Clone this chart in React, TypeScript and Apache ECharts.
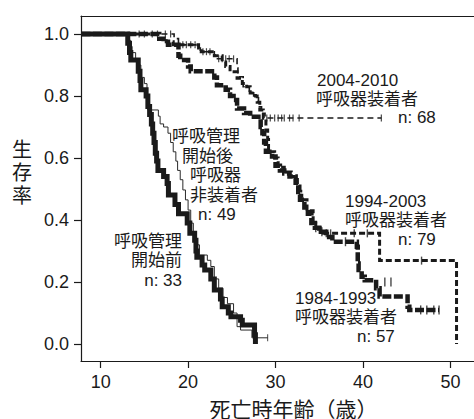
import React, { useEffect, useRef } from "react";
import * as echarts from "echarts";

// ---- axis ----
const xTicks = [10, 20, 30, 40, 50];
const yTicks = [0, 0.2, 0.4, 0.6, 0.8, 1.0];
const xMin = 7.753;
const xMax = 51.91;
const yMin = -0.0548;
const yMax = 1.0581;

// ---- 呼吸管理開始前 n:33 ----
const ageBefore = [7.8, 13.1, 13.3, 13.45, 14.3, 14.5, 14.6, 15.2, 15.4, 15.6, 15.8, 15.95, 16.1, 16.25, 16.4, 16.55, 17.2, 17.6, 17.75, 18.5, 18.9, 19.9, 20.2, 20.75, 20.9, 21.0, 21.6, 21.9, 22.6, 23.0, 23.7, 23.9, 24.6, 24.9, 26.0, 26.2, 27.6, 27.7];
const survBefore = [1.0, 0.97, 0.94, 0.916, 0.88, 0.85, 0.82, 0.8, 0.766, 0.74, 0.71, 0.68, 0.65, 0.615, 0.59, 0.56, 0.54, 0.518, 0.481, 0.45, 0.42, 0.39, 0.357, 0.335, 0.3, 0.28, 0.255, 0.239, 0.21, 0.174, 0.145, 0.12, 0.1, 0.088, 0.077, 0.061, 0.03, 0.0];

// ---- 呼吸管理開始後 呼吸器非装着者 n:49 ----
const ageNoVent = [7.8, 13.2, 13.4, 13.6, 14.0, 14.3, 14.6, 15.0, 15.3, 15.4, 16.6, 16.8, 17.2, 17.7, 18.0, 18.3, 18.6, 18.8, 19.1, 19.4, 19.7, 20.0, 20.3, 20.6, 20.9, 21.3, 22.2, 22.6, 23.0, 23.5, 24.0, 24.5, 25.2, 25.6, 26.0, 27.3, 29.1];
const survNoVent = [1.0, 0.98, 0.96, 0.94, 0.92, 0.9, 0.86, 0.84, 0.8, 0.755, 0.735, 0.71, 0.7, 0.68, 0.65, 0.62, 0.59, 0.56, 0.53, 0.497, 0.465, 0.432, 0.39, 0.35, 0.32, 0.287, 0.27, 0.25, 0.21, 0.18, 0.15, 0.13, 0.1, 0.056, 0.045, 0.02, 0.02];
const censorNoVentAge = [29.1];
const censorNoVentSurv = [0.02];

// ---- 1984-1993 呼吸器装着者 n:57 ----
const age8493 = [7.8, 16.7, 17.2, 17.7, 18.9, 19.1, 20.0, 20.3, 23.0, 23.3, 24.3, 24.8, 25.2, 25.6, 26.4, 27.1, 28.3, 28.5, 28.7, 28.9, 29.6, 30.0, 30.5, 31.0, 31.6, 32.3, 32.6, 32.8, 33.3, 33.7, 34.1, 34.5, 35.0, 35.8, 36.5, 39.3, 39.4, 39.5, 39.85, 40.2, 41.2, 41.5, 41.9, 45.1, 45.3, 48.7];
const surv8493 = [1.0, 0.985, 0.975, 0.965, 0.93, 0.916, 0.895, 0.88, 0.86, 0.835, 0.82, 0.8, 0.787, 0.76, 0.745, 0.733, 0.7, 0.68, 0.65, 0.62, 0.605, 0.575, 0.56, 0.55, 0.54, 0.52, 0.49, 0.465, 0.44, 0.42, 0.39, 0.375, 0.362, 0.345, 0.33, 0.314, 0.26, 0.239, 0.217, 0.206, 0.2, 0.18, 0.153, 0.12, 0.11, 0.11];
const censor8493Age = [34.6, 35.3, 38.0, 42.5, 43.2, 46.6, 47.3, 48.1, 48.7];
const censor8493Surv = [0.375, 0.362, 0.33, 0.2, 0.2, 0.11, 0.11, 0.11, 0.11];

// ---- 1994-2003 呼吸器装着者 n:79 ----
const age9403 = [7.8, 16.7, 17.5, 18.3, 21.2, 21.5, 23.0, 23.9, 24.3, 24.8, 25.6, 26.2, 26.7, 27.1, 27.7, 27.9, 28.2, 28.6, 28.9, 29.1, 29.2, 29.9, 30.3, 31.0, 31.8, 32.5, 32.8, 33.0, 33.6, 34.3, 34.6, 35.1, 35.5, 41.9, 50.7];
const surv9403 = [1.0, 0.985, 0.975, 0.965, 0.955, 0.943, 0.93, 0.91, 0.895, 0.878, 0.857, 0.84, 0.83, 0.81, 0.8, 0.78, 0.755, 0.728, 0.69, 0.66, 0.62, 0.6, 0.57, 0.555, 0.54, 0.515, 0.48, 0.465, 0.43, 0.39, 0.375, 0.36, 0.357, 0.269, 0.0];
const censor9403Age = [35.8, 36.3, 39.0, 40.5, 46.7];
const censor9403Surv = [0.357, 0.357, 0.357, 0.357, 0.269];

// ---- 2004-2010 呼吸器装着者 n:68 ----
const age0410 = [7.8, 18.4, 18.9, 21.2, 21.4, 23.0, 23.2, 25.6, 25.7, 26.3, 27.0, 27.5, 28.05, 28.4, 28.8, 42.1];
const surv0410 = [1.0, 0.985, 0.965, 0.955, 0.943, 0.93, 0.92, 0.89, 0.862, 0.83, 0.81, 0.8, 0.765, 0.744, 0.729, 0.729];
const censor0410Age = [14.4, 15.0, 15.9, 16.5, 17.4, 18.0, 19.4, 19.8, 20.3, 20.8, 21.7, 22.1, 22.5, 23.5, 23.9, 24.3, 24.7, 25.2, 29.0, 29.4, 29.9, 30.3, 30.7, 31.0, 31.6, 32.0, 32.7, 42.1];
const censor0410Surv = [1.0, 1.0, 1.0, 1.0, 1.0, 1.0, 0.965, 0.965, 0.965, 0.965, 0.943, 0.943, 0.943, 0.92, 0.92, 0.92, 0.92, 0.92, 0.729, 0.729, 0.729, 0.729, 0.729, 0.729, 0.729, 0.729, 0.729, 0.729];

const FONT = '"Liberation Sans", "Noto Sans CJK JP", sans-serif';
const INK = "#1a1a1a";

const pairs = (a: number[], s: number[]) => a.map((v, i) => [v, s[i]]);

const stepLine = (name: string, a: number[], s: number[], width: number, type: any, z: number, color = INK) => ({
  name,
  type: "line",
  step: "end",
  data: pairs(a, s),
  symbol: "none",
  showSymbol: false,
  z,
  lineStyle: { color, width, type, cap: "butt", join: "miter" },
});

const censor = (a: number[], s: number[], w: number, h: number, z: number) => ({
  type: "scatter",
  data: pairs(a, s),
  symbol: "rect",
  symbolSize: [w, h],
  itemStyle: { color: INK },
  z,
});

type Lbl = [string, number, number, string?];
const labels: Lbl[] = [
  ["2004-2010", 317, 80],
  ["呼吸器装着者", 316, 99],
  ["n: 68", 398, 117.5],
  ["呼吸管理", 172, 136.5],
  ["開始後", 182, 156],
  ["呼吸器", 190, 175],
  ["非装着者", 190, 195],
  ["n: 49", 198, 214],
  ["呼吸管理", 182, 241, "right"],
  ["開始前", 182, 260.5, "right"],
  ["n: 33", 182, 280, "right"],
  ["1994-2003", 345, 201.5],
  ["呼吸器装着者", 345, 220.5],
  ["n: 79", 398, 239.5],
  ["1984-1993", 295, 298],
  ["呼吸器装着者", 295, 317],
  ["n: 57", 357, 336],
];

export default function App() {
  const ref = useRef<HTMLDivElement>(null);
  useEffect(() => {
    if (!ref.current) return;
    const chart = echarts.init(ref.current, null, { renderer: "svg" });
    const axisLineStyle = { color: INK, width: 1.2 };
    const xMaxWide = xMin + (xMax - xMin) * (400 / 393);
    chart.setOption({
      animation: false,
      backgroundColor: "#ffffff",
      grid: { left: 81, top: 16, width: 400, height: 345, containLabel: false },
      xAxis: [
        {
          type: "value",
          min: xMin,
          max: xMaxWide,
          position: "bottom",
          axisLine: { show: true, onZero: false, lineStyle: axisLineStyle },
          axisTick: { show: true, length: 7, customValues: xTicks, lineStyle: axisLineStyle },
          axisLabel: { customValues: xTicks, fontSize: 18, color: INK, margin: 12, fontFamily: FONT },
          splitLine: { show: false },
        },
        {
          type: "value",
          min: xMin,
          max: xMaxWide,
          position: "top",
          axisLine: { show: true, onZero: false, lineStyle: axisLineStyle },
          axisTick: { show: false },
          axisLabel: { show: false },
          splitLine: { show: false },
        },
      ],
      yAxis: {
        type: "value",
        min: yMin,
        max: yMax,
        axisLine: { show: true, onZero: false, lineStyle: axisLineStyle },
        axisTick: { show: true, length: 7, customValues: yTicks, lineStyle: axisLineStyle },
        axisLabel: {
          customValues: yTicks,
          fontSize: 18,
          color: INK,
          margin: 12,
          fontFamily: FONT,
          formatter: (v: number) => v.toFixed(1),
        },
        splitLine: { show: false },
      },
      series: [
        stepLine("2004-2010", age0410, surv0410, 1.6, [6, 4], 2),
        censor(censor0410Age, censor0410Surv, 1.2, 7, 3),
        stepLine("1994-2003", age9403, surv9403, 3, [6, 3], 4),
        censor(censor9403Age, censor9403Surv, 1.4, 8, 5),
        stepLine("1984-1993", age8493, surv8493, 4.5, [9, 2.5], 6),
        censor(censor8493Age, censor8493Surv, 1.4, 9, 7),
        stepLine("非装着者", ageNoVent, survNoVent, 1, "solid", 8, "#2a2a2a"),
        censor(censorNoVentAge, censorNoVentSurv, 1, 7, 9),
        stepLine("開始前", ageBefore, survBefore, 5, "solid", 10),
      ],
      graphic: [
        ...labels.map(([t, x, y, align]) => ({
          type: "text",
          x,
          y,
          z: 100,
          style: {
            text: t,
            font: `17px ${FONT}`,
            lineHeight: 17,
            fill: INK,
            textAlign: align || "left",
            textVerticalAlign: "middle",
          },
        })),
        {
          type: "text",
          x: 293.5,
          y: 409,
          style: {
            text: "死亡時年齢（歳）",
            font: `21px ${FONT}`,
            fill: INK,
            textAlign: "center",
            textVerticalAlign: "middle",
          },
        },
        {
          type: "text",
          x: 22,
          y: 173,
          style: {
            text: "生\n存\n率",
            font: `20px ${FONT}`,
            lineHeight: 23,
            fill: INK,
            textAlign: "center",
            textVerticalAlign: "middle",
          },
        },
      ],
    });
    return () => chart.dispose();
  }, []);
  return <div ref={ref} style={{ width: 474, height: 419, position: "absolute", left: 0, top: 0 }} />;
}
